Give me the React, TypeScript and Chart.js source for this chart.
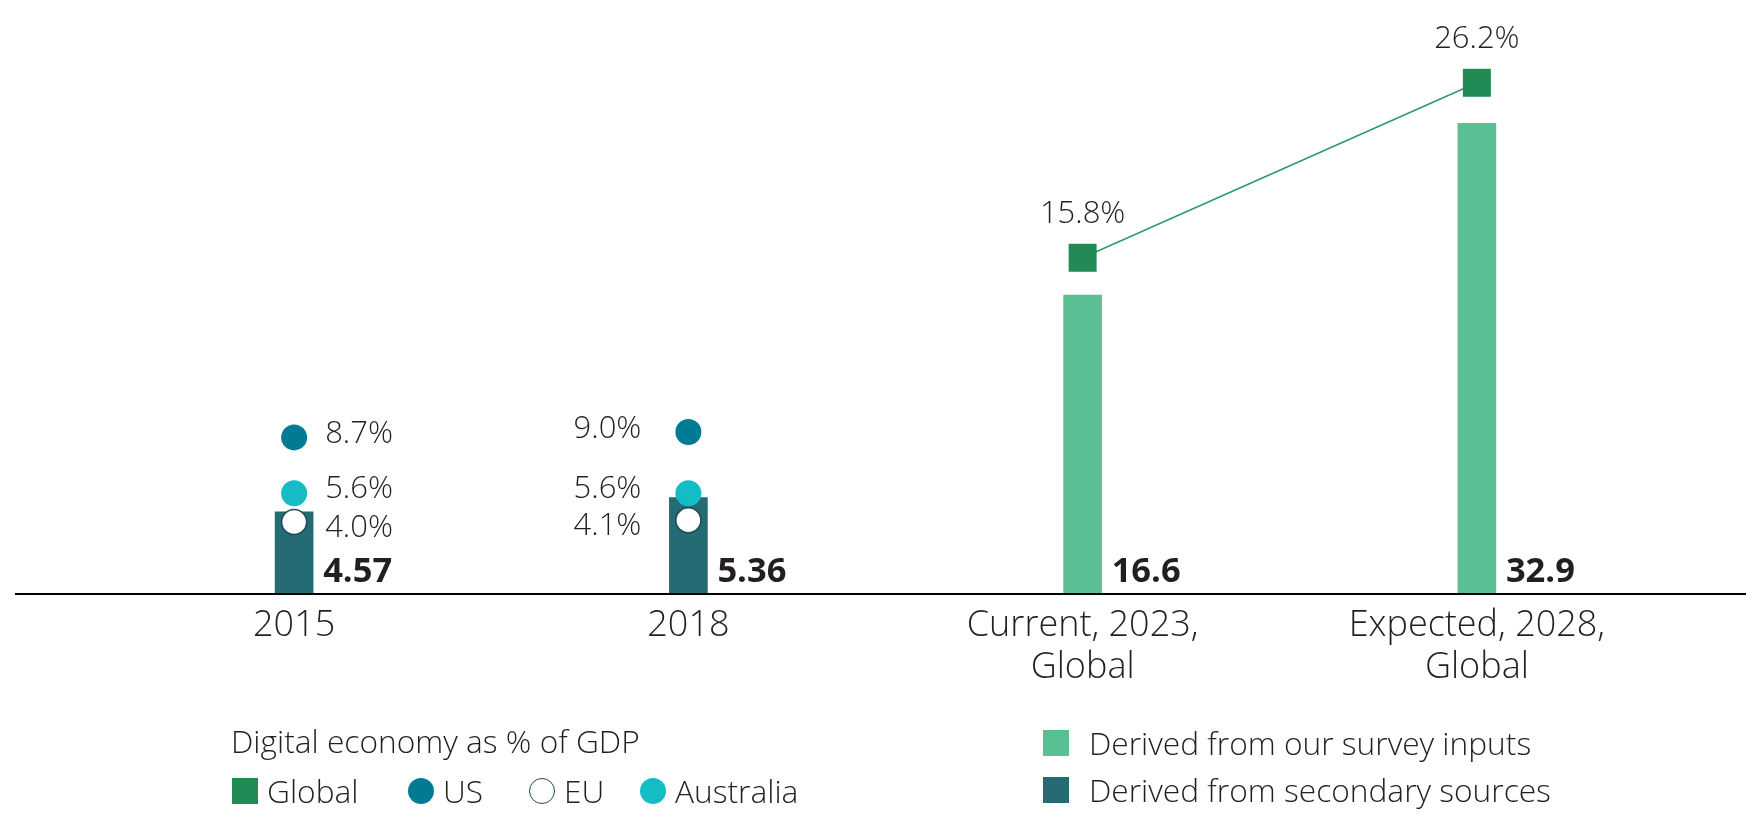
import React, { useEffect, useRef } from 'react';
import { Chart, registerables } from 'chart.js';

Chart.register(...registerables);

// ---- Data ----
const categories: string[][] = [['2015'], ['2018'], ['Current, 2023,', 'Global'], ['Expected, 2028,', 'Global']];
const barValues: number[] = [4.57, 5.36, 16.6, 32.9];
const barSource: string[] = ['secondary', 'secondary', 'survey', 'survey'];
const globalShare: (number | null)[] = [null, null, 15.8, 26.2];
const usShare: (number | null)[] = [8.7, 9.0, null, null];
const australiaShare: (number | null)[] = [5.6, 5.6, null, null];
const euShare: (number | null)[] = [4.0, 4.1, null, null];

// ---- Styles ----
const FONT = '"Open Sans", "Noto Sans", sans-serif';
const TEXT = '#231f20';
const C_SURVEY = '#5bbf94';
const C_SECONDARY = '#246b73';
const C_GLOBAL = '#218a55';
const C_GLOBAL_LINE = '#2e9a63';
const C_US = '#007b93';
const C_AUS = '#15bcc6';
const C_EU_BORDER = '#1e4d55';

const labelPlugin = {
  id: 'customLabels',
  afterDatasetsDraw(chart: any) {
    const ctx = chart.ctx;
    const yScale = chart.scales.y;
    const base = yScale.getPixelForValue(0);
    ctx.save();
    // baseline axis across full width
    ctx.strokeStyle = '#000';
    ctx.lineWidth = 2;
    ctx.beginPath();
    ctx.moveTo(15, base);
    ctx.lineTo(chart.width, base);
    ctx.stroke();

    // bar value labels
    ctx.fillStyle = TEXT;
    ctx.font = `bold 34.5px ${FONT}`;
    ctx.textAlign = 'left';
    ctx.textBaseline = 'alphabetic';
    chart.getDatasetMeta(0).data.forEach((el: any, i: number) => {
      ctx.fillText(String(barValues[i]), el.x + el.width / 2 + 10, base - 12);
    });

    // regional point labels
    ctx.font = `300 31px ${FONT}`;
    ctx.textBaseline = 'middle';
    const regional = [
      { idx: 2, data: usShare, nudge: -3 },
      { idx: 3, data: australiaShare, nudge: -4 },
      { idx: 4, data: euShare, nudge: 6 },
    ];
    regional.forEach(({ idx, data, nudge }) => {
      chart.getDatasetMeta(idx).data.forEach((el: any, i: number) => {
        const v = data[i];
        if (v === null || v === undefined) return;
        const txt = `${v.toFixed(1)}%`;
        if (i === 0) {
          ctx.textAlign = 'left';
          ctx.fillText(txt, el.x + 31, el.y + nudge);
        } else {
          ctx.textAlign = 'right';
          ctx.fillText(txt, el.x - 47, el.y + nudge);
        }
      });
    });

    // global labels
    ctx.textAlign = 'center';
    ctx.textBaseline = 'alphabetic';
    chart.getDatasetMeta(1).data.forEach((el: any, i: number) => {
      const v = globalShare[i];
      if (v === null || v === undefined) return;
      ctx.fillText(`${v.toFixed(1)}%`, el.x, el.y - 35);
    });
    ctx.restore();
  },
};

function LegendItem({ left, top, shape, color, border, label }: any) {
  const size = 26;
  return (
    <div style={{ position: 'absolute', left, top, height: 30, display: 'flex', alignItems: 'center', whiteSpace: 'nowrap' }}>
      <div
        style={{
          width: size,
          height: size,
          flex: 'none',
          boxSizing: 'border-box',
          background: color,
          border: border ? `1.5px solid ${border}` : 'none',
          borderRadius: shape === 'circle' ? '50%' : 0,
          marginRight: 9,
        }}
      />
      <span style={{ lineHeight: '30px' }}>{label}</span>
    </div>
  );
}

export default function App() {
  const ref = useRef<HTMLCanvasElement | null>(null);

  useEffect(() => {
    if (!ref.current) return;
    const chart = new Chart(ref.current, {
      type: 'bar',
      data: {
        labels: categories,
        datasets: [
          {
            type: 'bar',
            label: 'Digital economy',
            data: barValues,
            backgroundColor: barSource.map((s) => (s === 'survey' ? C_SURVEY : C_SECONDARY)),
            barThickness: 38,
            clip: { top: -33, left: false, right: false, bottom: 0 },
            order: 10,
            yAxisID: 'y',
          } as any,
          {
            type: 'line',
            label: 'Global',
            data: globalShare,
            yAxisID: 'y2',
            borderColor: C_GLOBAL_LINE,
            borderWidth: 1.5,
            pointStyle: 'rect',
            pointRadius: 19.8,
            pointHoverRadius: 19.8,
            pointBackgroundColor: C_GLOBAL,
            pointBorderWidth: 0,
            clip: false,
            order: 1,
          } as any,
          {
            type: 'line',
            label: 'US',
            data: usShare,
            yAxisID: 'y',
            showLine: false,
            pointStyle: 'circle',
            pointRadius: 13,
            pointHoverRadius: 13,
            pointBackgroundColor: C_US,
            pointBorderWidth: 0,
            clip: false,
            order: 2,
          } as any,
          {
            type: 'line',
            label: 'Australia',
            data: australiaShare,
            yAxisID: 'y',
            showLine: false,
            pointStyle: 'circle',
            pointRadius: 13,
            pointHoverRadius: 13,
            pointBackgroundColor: C_AUS,
            pointBorderWidth: 0,
            clip: false,
            order: 3,
          } as any,
          {
            type: 'line',
            label: 'EU',
            data: euShare,
            yAxisID: 'y',
            showLine: false,
            pointStyle: 'circle',
            pointRadius: 12.5,
            pointHoverRadius: 12.5,
            pointBackgroundColor: '#ffffff',
            pointBorderColor: C_EU_BORDER,
            pointBorderWidth: 1.5,
            clip: false,
            order: 0,
          } as any,
        ],
      },
      options: {
        responsive: false,
        animation: false,
        layout: { padding: { left: 97, right: 72, top: 90, bottom: 0 } },
        plugins: { legend: { display: false }, tooltip: { enabled: false } },
        scales: {
          x: {
            offset: true,
            grid: { display: false, drawTicks: false },
            border: { display: false },
            ticks: {
              color: TEXT,
              padding: 11,
              font: { family: FONT, size: 36, weight: '300', lineHeight: 1.17 } as any,
              maxRotation: 0,
              autoSkip: false,
            },
            afterFit: (scale: any) => {
              scale.height = 244;
            },
          },
          y: { display: false, min: 0, max: 28.0 },
          y2: { display: false, min: -4.18, max: 25.77 },
        },
      } as any,
      plugins: [labelPlugin],
    });
    return () => chart.destroy();
  }, []);

  return (
    <div
      style={{
        position: 'absolute',
        left: 0,
        top: 0,
        width: 1746,
        height: 838,
        background: '#fff',
        fontFamily: FONT,
        fontWeight: 300,
        fontSize: 31.7,
        color: TEXT,
      }}
    >
      <canvas ref={ref} width={1746} height={838} style={{ position: 'absolute', left: 0, top: 0 }} />
      <div style={{ position: 'absolute', left: 231, top: 726, lineHeight: '30px', whiteSpace: 'nowrap' }}>
        Digital economy as % of GDP
      </div>
      <LegendItem left={232} top={776} shape="square" color={C_GLOBAL} label="Global" />
      <LegendItem left={408} top={776} shape="circle" color={C_US} label="US" />
      <LegendItem left={529} top={776} shape="circle" color="#fff" border={C_EU_BORDER} label="EU" />
      <LegendItem left={640} top={776} shape="circle" color={C_AUS} label="Australia" />
      <div style={{ position: 'absolute', left: 1043, top: 728, height: 30, display: 'flex', alignItems: 'center', whiteSpace: 'nowrap' }}>
        <div style={{ width: 26, height: 26, flex: 'none', background: C_SURVEY, marginRight: 20 }} />
        <span style={{ lineHeight: '30px' }}>Derived from our survey inputs</span>
      </div>
      <div style={{ position: 'absolute', left: 1043, top: 775, height: 30, display: 'flex', alignItems: 'center', whiteSpace: 'nowrap' }}>
        <div style={{ width: 26, height: 26, flex: 'none', background: C_SECONDARY, marginRight: 20 }} />
        <span style={{ lineHeight: '30px' }}>Derived from secondary sources</span>
      </div>
    </div>
  );
}
